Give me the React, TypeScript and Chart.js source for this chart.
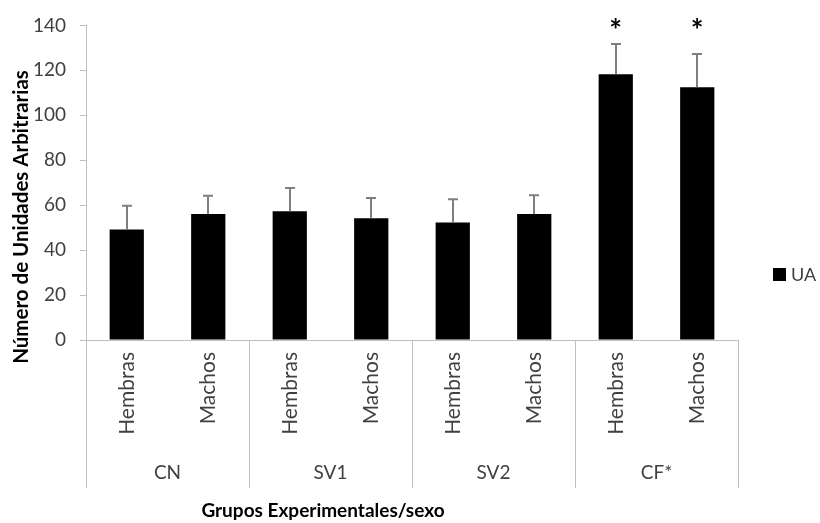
import { useEffect, useRef } from 'react';
import { Chart, registerables } from 'chart.js';

Chart.register(...registerables);

// ---- data ----
const categories = ['Hembras', 'Machos', 'Hembras', 'Machos', 'Hembras', 'Machos', 'Hembras', 'Machos'];
const groups = ['CN', 'SV1', 'SV2', 'CF*'];
const seriesLabel = 'UA';
const means = [49.2, 56.1, 57.3, 54.2, 52.3, 56.1, 118.3, 112.5];
const errors = [10.5, 8.1, 10.3, 9.0, 10.3, 8.3, 13.4, 14.8];
const significance = ['', '', '', '', '', '', '*', '*'];
const yMin = 0;
const yMax = 140;
const yStep = 20;
const yTitle = 'Número de Unidades Arbitrarias';
const xTitle = 'Grupos Experimentales/sexo';

const FONT = 'Lato, "Noto Sans", sans-serif';
const AXIS_GREY = '#bfbfbf';
const TEXT_GREY = '#404040';

const decorPlugin = {
  id: 'decor',
  afterDatasetsDraw(chart: any) {
    const { ctx, chartArea } = chart;
    const x = chart.scales.x;
    const y = chart.scales.y;
    const meta = chart.getDatasetMeta(0);
    ctx.save();

    // error bars (upper only)
    ctx.strokeStyle = '#7f7f7f';
    ctx.lineWidth = 2;
    meta.data.forEach((bar: any, i: number) => {
      const cx = Math.round(bar.x);
      const yTop = y.getPixelForValue(means[i] + errors[i]);
      const yBase = y.getPixelForValue(means[i]);
      ctx.beginPath();
      ctx.moveTo(cx, yBase);
      ctx.lineTo(cx, yTop);
      ctx.moveTo(cx - 5, yTop);
      ctx.lineTo(cx + 5, yTop);
      ctx.stroke();
    });

    // significance marks
    ctx.fillStyle = '#000';
    ctx.font = `bold 30px ${FONT}`;
    ctx.textAlign = 'center';
    ctx.textBaseline = 'alphabetic';
    meta.data.forEach((bar: any, i: number) => {
      if (significance[i]) ctx.fillText(significance[i], bar.x, chartArea.top + 16);
    });

    // axis extension and group dividers
    const bottom = chartArea.bottom + 148;
    ctx.strokeStyle = AXIS_GREY;
    ctx.lineWidth = 1;
    const n = categories.length;
    const boundary = (k: number) => {
      if (k === 0) return chartArea.left;
      if (k === n) return chartArea.right;
      return (x.getPixelForValue(k - 1) + x.getPixelForValue(k)) / 2;
    };
    const per = n / groups.length;
    for (let g = 0; g <= groups.length; g++) {
      const bx = Math.round(boundary(g * per)) + 0.5;
      ctx.beginPath();
      ctx.moveTo(bx, chartArea.bottom);
      ctx.lineTo(bx, bottom);
      ctx.stroke();
    }

    // category labels (rotated)
    ctx.fillStyle = TEXT_GREY;
    ctx.font = `21px ${FONT}`;
    ctx.textAlign = 'right';
    ctx.textBaseline = 'middle';
    categories.forEach((c, i) => {
      const px = x.getPixelForValue(i);
      ctx.save();
      ctx.translate(px, chartArea.bottom + 12);
      ctx.rotate(-Math.PI / 2);
      ctx.fillText(c, 0, 0);
      ctx.restore();
    });

    // group labels
    ctx.font = `19px ${FONT}`;
    ctx.textAlign = 'center';
    groups.forEach((g, gi) => {
      const cx = (boundary(gi * per) + boundary((gi + 1) * per)) / 2;
      ctx.fillText(g, cx, chartArea.bottom + 133);
    });

    // axis titles
    ctx.fillStyle = '#000';
    ctx.font = `bold 19px ${FONT}`;
    ctx.textAlign = 'center';
    ctx.textBaseline = 'middle';
    ctx.fillText(xTitle, 323, 511);
    ctx.font = `bold 20.5px ${FONT}`;
    ctx.save();
    ctx.translate(21, 217);
    ctx.rotate(-Math.PI / 2);
    ctx.fillText(yTitle, 0, 0);
    ctx.restore();

    // legend
    const ds = chart.data.datasets[0];
    ctx.fillStyle = ds.backgroundColor;
    ctx.fillRect(773, 268, 13, 13);
    ctx.fillStyle = TEXT_GREY;
    ctx.font = `18px ${FONT}`;
    ctx.textAlign = 'left';
    ctx.fillText(ds.label, 791, 275);

    ctx.restore();
  },
};

export default function App() {
  const ref = useRef<HTMLCanvasElement>(null);
  useEffect(() => {
    document.body.style.margin = '0';
    const canvas = ref.current!;
    const chart = new Chart(canvas, {
      type: 'bar',
      data: {
        labels: categories,
        datasets: [
          {
            label: seriesLabel,
            data: means,
            backgroundColor: '#000000',
            borderWidth: 0,
            barPercentage: 0.42,
            categoryPercentage: 1,
          },
        ],
      },
      options: {
        responsive: false,
        animation: false,
        devicePixelRatio: 1,
        layout: { padding: { top: 24, right: 82, left: 0, bottom: 0 } },
        plugins: {
          legend: { display: false },
          tooltip: { enabled: false },
        },
        scales: {
          x: {
            type: 'category',
            grid: { display: false },
            ticks: { display: false },
            border: { display: true, color: AXIS_GREY, width: 1 },
            afterFit(scale: any) {
              scale.height = 183;
            },
          },
          y: {
            min: yMin,
            max: yMax,
            ticks: {
              stepSize: yStep,
              color: TEXT_GREY,
              font: { family: FONT, size: 19 },
              padding: 14,
            },
            grid: {
              drawOnChartArea: false,
              drawTicks: true,
              tickLength: 6,
              color: AXIS_GREY,
            },
            border: { display: true, color: AXIS_GREY, width: 1 },
            afterFit(scale: any) {
              scale.width = 86;
            },
          },
        },
      },
      plugins: [decorPlugin],
    });
    return () => chart.destroy();
  }, []);
  return (
    <div style={{ width: 820, height: 523 }}>
      <canvas ref={ref} width={820} height={523} style={{ display: 'block' }} />
    </div>
  );
}
